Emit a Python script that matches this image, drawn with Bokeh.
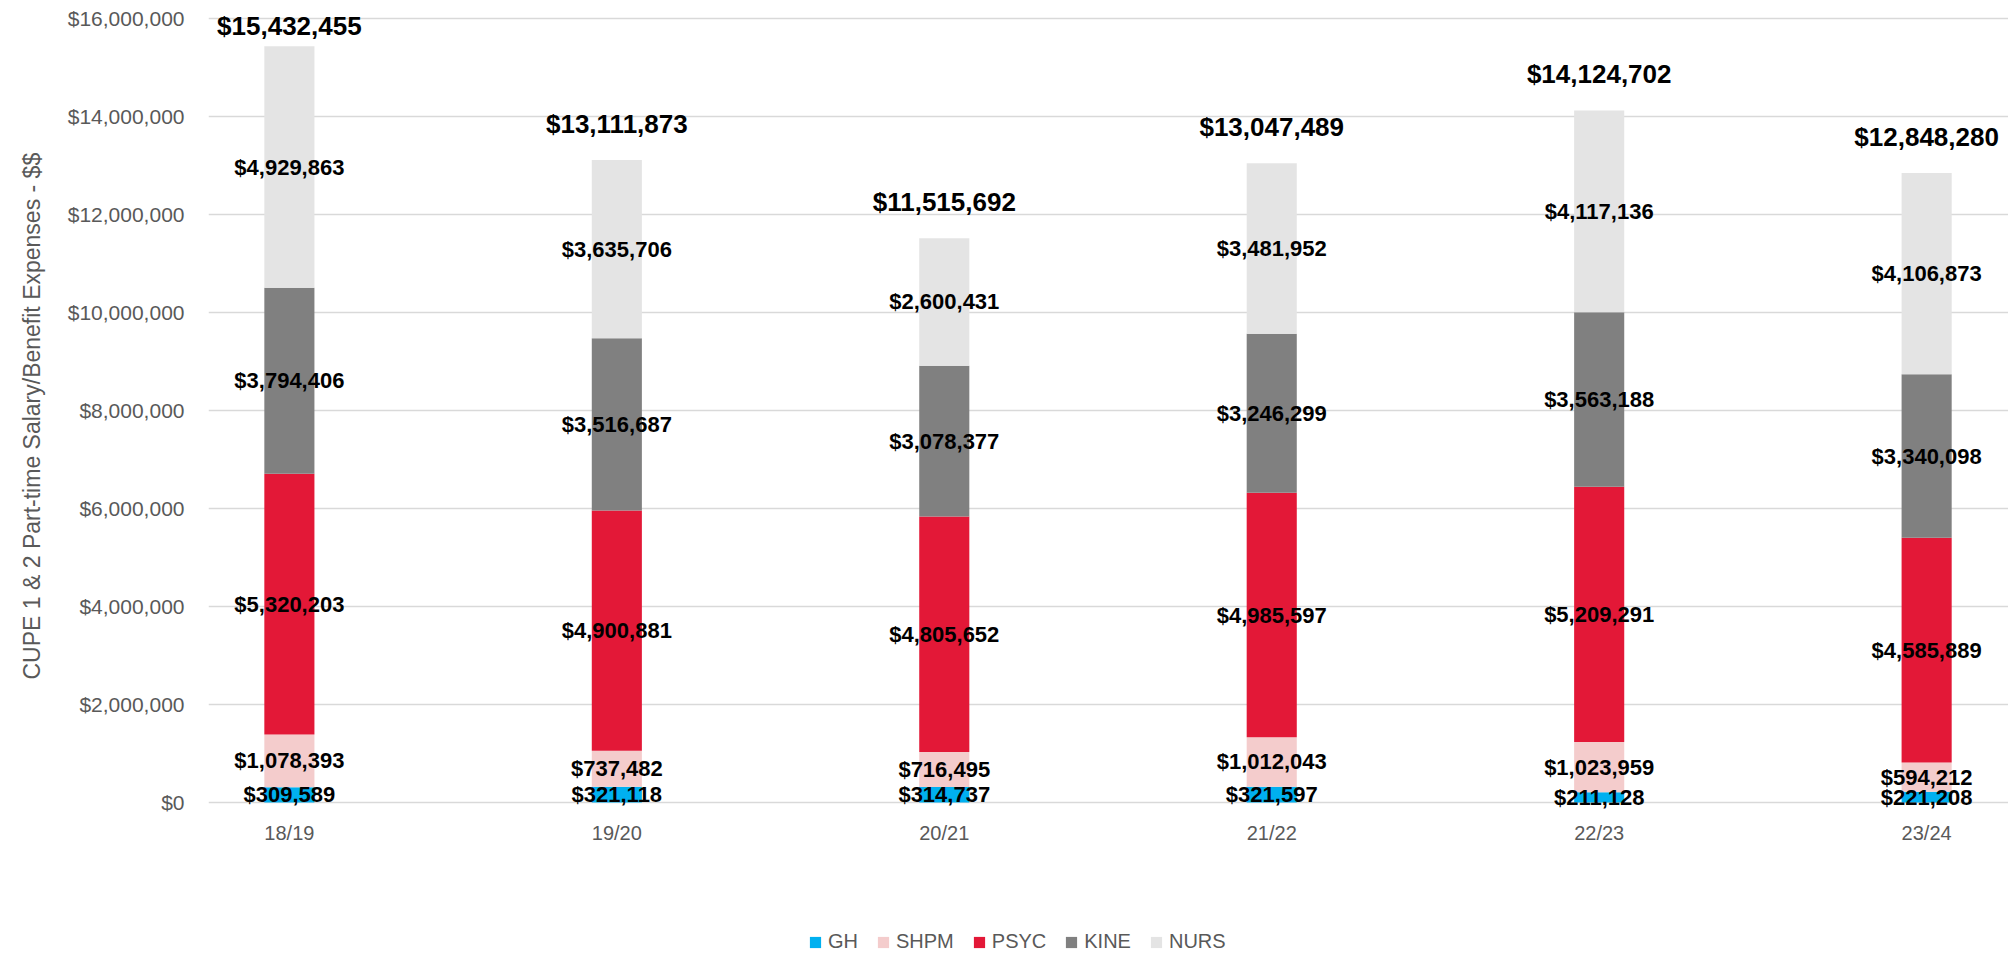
from bokeh.plotting import figure
from bokeh.models import (ColumnDataSource, Range1d, FixedTicker, NumeralTickFormatter,
                          Legend, LegendItem, Title)
from bokeh.core.properties import value
from bokeh.embed import file_html
from bokeh.resources import INLINE

years = ["18/19", "19/20", "20/21", "21/22", "22/23", "23/24"]
series = ["GH", "SHPM", "PSYC", "KINE", "NURS"]
gh = [309589, 321118, 314737, 321597, 211128, 221208]
shpm = [1078393, 737482, 716495, 1012043, 1023959, 594212]
psyc = [5320203, 4900881, 4805652, 4985597, 5209291, 4585889]
kine = [3794406, 3516687, 3078377, 3246299, 3563188, 3340098]
nurs = [4929863, 3635706, 2600431, 3481952, 4117136, 4106873]
totals = [15432455, 13111873, 11515692, 13047489, 14124702, 12848280]
colors = ["#00B0F0", "#F4CCCC", "#E31837", "#808080", "#E4E4E4"]
y_ticks = [0, 2000000, 4000000, 6000000, 8000000, 10000000, 12000000, 14000000, 16000000]
y_title = "CUPE 1 & 2 Part-time Salary/Benefit  Expenses - $$"

FONT = "Liberation Sans"
GRAY = "#595959"

xs = list(range(len(years)))
data = {"x": xs, "GH": gh, "SHPM": shpm, "PSYC": psyc, "KINE": kine, "NURS": nurs}
src = ColumnDataSource(data)

p = figure(width=2008, height=953, output_backend="svg", toolbar_location=None,
           x_range=Range1d(-0.247, 5.25), y_range=Range1d(-3081600, 16102000),
           min_border_left=207, min_border_right=0, min_border_top=13, min_border_bottom=0)
p.outline_line_color = None
p.xgrid.grid_line_color = None
p.ygrid.grid_line_color = "#D9D9D9"
p.ygrid.grid_line_width = 1.5

renderers = p.vbar_stack(series, x="x", width=0.153, color=colors, line_color=None, source=src)

# segment labels
vals = [gh, shpm, psyc, kine, nurs]
lx, ly, lt = [], [], []
for i in range(len(years)):
    base = 0
    for s in vals:
        v = s[i]
        lx.append(xs[i])
        ly.append(base + v / 2)
        lt.append("${:,}".format(v))
        base += v
p.text(x=lx, y=ly, text=lt, text_align="center", text_baseline="middle",
       text_font=value(FONT), text_font_style="bold", text_font_size="22px", text_color="#000000")

# total labels
ty = [min(t + 735000, 15857000) for t in totals]
p.text(x=xs, y=ty, text=["${:,}".format(t) for t in totals], text_align="center",
       text_baseline="middle", text_font=value(FONT), text_font_style="bold",
       text_font_size="26px", text_color="#000000")

# y axis
p.yaxis.ticker = FixedTicker(ticks=y_ticks)
p.yaxis.formatter = NumeralTickFormatter(format="$0,0")
p.yaxis.axis_line_color = None
p.yaxis.major_tick_line_color = None
p.yaxis.minor_tick_line_color = None
p.yaxis.major_tick_out = 0
p.yaxis.major_label_standoff = 24
p.yaxis.major_label_text_font = FONT
p.yaxis.major_label_text_font_size = "21px"
p.yaxis.major_label_text_color = GRAY

p.add_layout(Title(text=y_title, align="left", offset=274, vertical_align="top", standoff=36,
                   text_font=FONT, text_font_size="23px", text_font_style="normal",
                   text_color=GRAY), "left")

# x axis (drawn at y = 0 inside the frame)
p.xaxis.fixed_location = 0
p.xaxis.ticker = FixedTicker(ticks=xs)
p.xaxis.major_label_overrides = {i: y for i, y in enumerate(years)}
p.xaxis.axis_line_color = None
p.xaxis.major_tick_line_color = None
p.xaxis.minor_tick_line_color = None
p.xaxis.major_tick_out = 0
p.xaxis.major_label_standoff = 19
p.xaxis.major_label_text_font = FONT
p.xaxis.major_label_text_font_size = "20px"
p.xaxis.major_label_text_color = GRAY

legend = Legend(items=[LegendItem(label=s, renderers=[r]) for s, r in zip(series, renderers)],
                orientation="horizontal", location=(600, 0), padding=0, margin=0, spacing=18,
                glyph_width=14, glyph_height=14, label_standoff=6,
                label_text_font=FONT, label_text_font_size="20px", label_text_color=GRAY,
                border_line_color=None, background_fill_alpha=0)
p.add_layout(legend, "center")

open("out.html", "w").write(file_html(p, INLINE))
